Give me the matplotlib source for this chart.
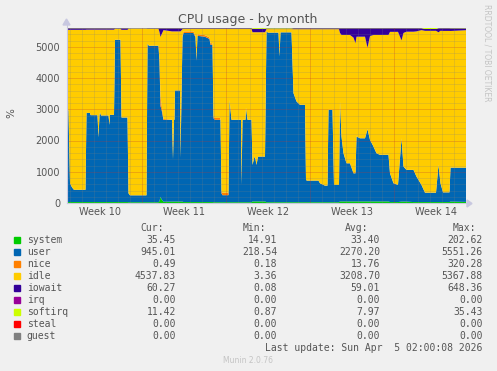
import numpy as np
import matplotlib
matplotlib.use("Agg")
import matplotlib.pyplot as plt
from matplotlib.patches import Rectangle, Polygon
from matplotlib.lines import Line2D

W, H = 497, 371
TOTAL = 5600  # 56 cpus x 100%

# sample times, hours since start of graph
hours = [0, 3, 6, 10, 14, 37, 39, 46, 47, 61,
         63, 65, 66, 68, 83, 85, 86, 94, 96, 107,
         109, 121, 123, 126, 159, 161, 164, 183, 185, 187,
         189, 193, 210, 212, 214, 215, 216, 226, 227, 231,
         233, 253, 257, 259, 261, 276, 285, 287, 291, 293,
         296, 307, 309, 311, 323, 325, 329, 348, 349, 351,
         357, 358, 361, 369, 371, 375, 377, 379, 382, 396,
         399, 402, 423, 425, 427, 449, 453, 459, 466, 476,
         478, 480, 503, 506, 516, 521, 523, 531, 534, 544,
         546, 549, 553, 559, 566, 573, 577, 579, 586, 596,
         601, 606, 613, 619, 626, 643, 646, 653, 662, 669,
         673, 679, 693, 699, 709, 716, 738, 743, 747, 752,
         765, 767, 798]

system = [30, 30, 30, 30, 30, 30, 30, 30, 30, 30,
          30, 30, 30, 30, 30, 30, 30, 30, 30, 30,
          30, 30, 25, 25, 25, 25, 25, 25, 60, 200,
          120, 40, 45, 45, 45, 45, 45, 45, 45, 45,
          30, 30, 30, 30, 30, 30, 30, 30, 30, 25,
          25, 25, 25, 25, 25, 25, 25, 25, 25, 25,
          25, 25, 25, 25, 50, 50, 50, 50, 50, 50,
          25, 25, 25, 25, 25, 25, 25, 25, 25, 25,
          25, 25, 25, 25, 25, 25, 25, 25, 25, 25,
          50, 50, 50, 50, 50, 50, 50, 50, 50, 50,
          50, 50, 50, 50, 50, 50, 30, 30, 30, 45,
          45, 45, 30, 30, 30, 30, 30, 30, 30, 30,
          30, 45, 35]

user = [3020, 2920, 600, 470, 390, 390, 2850, 2850, 2780, 2780,
        2070, 2780, 2870, 2770, 2770, 2470, 2790, 2790, 5190, 5190,
        2705, 2705, 285, 220, 220, 5071, 5005, 5005, 4440, 2900,
        2880, 2620, 2615, 1355, 2615, 2615, 3555, 3555, 1405, 5255,
        5410, 5410, 5270, 4520, 5320, 5290, 5220, 5034, 5034, 2688,
        2635, 2635, 285, 225, 225, 3275, 2635, 2635, 555, 2635,
        2635, 3025, 2635, 2635, 1168, 1434, 1350, 1168, 1434, 1434,
        5465, 5425, 5425, 4665, 5435, 5435, 3490, 3225, 3115, 3115,
        712, 690, 690, 605, 530, 530, 2955, 2955, 552, 552,
        3200, 2075, 1540, 1220, 1220, 900, 900, 2075, 2020, 2020,
        2310, 1970, 1755, 1540, 1490, 1490, 920, 600, 547, 2025,
        1120, 1013, 1028, 813, 547, 300, 300, 1188, 600, 310,
        310, 1085, 1095]

nice = [3, 3, 3, 3, 3, 3, 3, 3, 3, 3,
        3, 3, 3, 3, 3, 3, 3, 3, 3, 3,
        3, 3, 3, 3, 3, 3, 3, 3, 80, 320,
        150, 30, 5, 5, 5, 5, 5, 5, 5, 50,
        50, 50, 50, 50, 50, 50, 50, 50, 50, 60,
        60, 60, 80, 80, 80, 3, 3, 3, 3, 3,
        3, 3, 3, 3, 3, 3, 3, 3, 3, 3,
        3, 3, 3, 3, 3, 3, 3, 3, 3, 3,
        3, 3, 3, 3, 3, 3, 3, 3, 3, 3,
        3, 3, 3, 3, 3, 3, 3, 3, 3, 3,
        3, 3, 3, 3, 3, 3, 3, 3, 3, 3,
        3, 3, 3, 3, 3, 3, 3, 3, 3, 3,
        3, 3, 0.5]

iowait = [50, 50, 50, 50, 50, 50, 45, 45, 45, 45,
          45, 45, 45, 45, 45, 45, 45, 45, 20, 20,
          50, 50, 15, 15, 15, 20, 20, 20, 120, 280,
          200, 60, 100, 100, 100, 100, 100, 100, 100, 30,
          25, 25, 25, 25, 25, 25, 25, 25, 25, 25,
          25, 25, 25, 25, 25, 25, 25, 25, 25, 25,
          25, 25, 25, 25, 110, 110, 110, 110, 110, 110,
          20, 20, 20, 20, 20, 20, 30, 30, 30, 30,
          30, 30, 30, 30, 30, 30, 30, 30, 30, 30,
          150, 215, 215, 215, 215, 300, 480, 270, 270, 270,
          620, 250, 215, 215, 215, 215, 115, 115, 115, 390,
          150, 110, 110, 100, 60, 60, 60, 130, 80, 85,
          85, 85, 60]

softirq = [8, 8, 8, 8, 8, 8, 8, 8, 8, 8,
           8, 8, 8, 8, 8, 8, 8, 8, 8, 8,
           8, 8, 8, 8, 8, 8, 8, 8, 8, 8,
           8, 8, 8, 8, 8, 8, 8, 8, 8, 8,
           8, 8, 8, 8, 8, 8, 8, 8, 8, 8,
           8, 8, 8, 8, 8, 8, 8, 8, 8, 8,
           8, 8, 8, 8, 25, 25, 25, 25, 25, 25,
           15, 15, 15, 15, 15, 15, 8, 8, 8, 8,
           8, 8, 8, 8, 8, 8, 8, 8, 8, 8,
           8, 8, 8, 8, 8, 8, 8, 8, 8, 8,
           8, 8, 8, 8, 8, 8, 8, 8, 8, 8,
           8, 8, 8, 8, 8, 30, 30, 8, 8, 8,
           8, 10, 11]

# idle is whatever is left of the 5600% total
idle = TOTAL - (np.array(system) + np.array(user) + np.array(nice)
                + np.array(iowait) + np.array(softirq))
zero = np.zeros(len(hours))

names = ["system", "user", "nice", "idle", "iowait", "irq", "softirq", "steal", "guest"]
colors = ["#00CC00", "#0066B3", "#FF8000", "#FFCC00", "#330099",
          "#990099", "#CCFF00", "#FF0000", "#808080"]
cur = ["35.45", "945.01", "0.49", "4537.83", "60.27", "0.00", "11.42", "0.00", "0.00"]
mins = ["14.91", "218.54", "0.18", "3.36", "0.08", "0.00", "0.87", "0.00", "0.00"]
avgs = ["33.40", "2270.20", "13.76", "3208.70", "59.01", "0.00", "7.97", "0.00", "0.00"]
maxs = ["202.62", "5551.26", "320.28", "5367.88", "648.36", "0.00", "35.43", "0.00", "0.00"]

week_labels = ["Week 10", "Week 11", "Week 12", "Week 13", "Week 14"]
week_starts = [150, 318, 486, 654]  # hours where a new week begins
hours_end = 798

TXT = "#555555"
plt.rcParams["font.family"] = "DejaVu Sans"

fig = plt.figure(figsize=(W / 100, H / 100), dpi=100, facecolor="#f0f0f0")


def fx(x):
    return x / W


def fy(y):
    return 1 - y / H


ax = fig.add_axes([fx(67), fy(203), 399 / W, 175 / H])
ax.set_facecolor("#f0f0f0")
ax.stackplot(hours, system, user, nice, idle, iowait, zero, softirq, zero, zero,
             colors=colors, linewidth=0)
ax.set_xlim(0, hours_end)
ax.set_ylim(0, TOTAL)

# rrdtool style grid, drawn on top of the areas
minor_c = (0.5, 0.5, 0.5, 0.4)
major_c = (0.75, 0.2, 0.2, 0.5)
for v in range(200, TOTAL, 200):
    ax.axhline(v, color=major_c if v % 1000 == 0 else minor_c,
               lw=0.72, ls=(0, (1, 1)), zorder=5)
for h in range(6, hours_end, 24):
    ax.axvline(h, color=major_c if h in week_starts else minor_c,
               lw=0.72, ls=(0, (1, 1)), zorder=5)

for s in ax.spines.values():
    s.set_visible(False)
ax.set_yticks(range(0, 5001, 1000))
ax.set_yticklabels([str(v) for v in range(0, 5001, 1000)])
ax.set_xticks([w - 84 for w in week_starts] + [week_starts[-1] + 84])
ax.set_xticklabels(week_labels)
ax.tick_params(axis="y", length=0, pad=5, labelsize=7, labelcolor=TXT)
ax.tick_params(axis="x", length=0, pad=3, labelsize=7, labelcolor=TXT)

# axis lines with arrows
axis_c = "#c8c8e0"
fig.add_artist(Line2D([fx(67), fx(468)], [fy(203.5), fy(203.5)], color=axis_c, lw=0.8))
fig.add_artist(Line2D([fx(66.5), fx(66.5)], [fy(203.5), fy(24)], color=axis_c, lw=0.8))
fig.add_artist(Polygon([[fx(467), fy(200)], [fx(467), fy(207)], [fx(472), fy(203.5)]],
                       closed=True, color=axis_c, transform=fig.transFigure))
fig.add_artist(Polygon([[fx(63), fy(25)], [fx(70), fy(25)], [fx(66.5), fy(19)]],
                       closed=True, color=axis_c, transform=fig.transFigure))

fig.text(fx(247.5), fy(19), "CPU usage - by month", ha="center", va="center",
         size=9, color=TXT)
fig.text(fx(11), fy(113), "%", rotation=90, ha="center", va="center", size=7.5, color=TXT)
fig.text(fx(487), fy(53), "RRDTOOL / TOBI OETIKER", rotation=270, ha="center",
         va="center", size=5.5, color="#c4c4c4")
fig.text(fx(248), fy(360.5), "Munin 2.0.76", ha="center", va="center",
         size=5.5, color="#c4c4c4")

# legend table
mono = "DejaVu Sans Mono"
for x, t in [(140.7, "Cur:"), (242.7, "Min:"), (345, "Avg:"), (453, "Max:")]:
    fig.text(fx(x), fy(228.3), t, ha="left", va="center", family=mono, size=7, color=TXT)
for i, name in enumerate(names):
    y = 240 + 12 * i
    fig.add_artist(Rectangle((fx(14), fy(y + 3)), 6 / W, 6 / H, color=colors[i],
                             transform=fig.transFigure))
    fig.text(fx(26.7), fy(y), name, ha="left", va="center", family=mono, size=7, color=TXT)
    for x, col in [(176, cur), (277.3, mins), (380, avgs), (482.7, maxs)]:
        fig.text(fx(x), fy(y), col[i], ha="right", va="center", family=mono,
                 size=7, color=TXT)
fig.text(fx(482.7), fy(347.7), "Last update: Sun Apr  5 02:00:08 2026", ha="right",
         va="center", family=mono, size=7, color=TXT)

fig.savefig("out.png", dpi=100, facecolor=fig.get_facecolor())
